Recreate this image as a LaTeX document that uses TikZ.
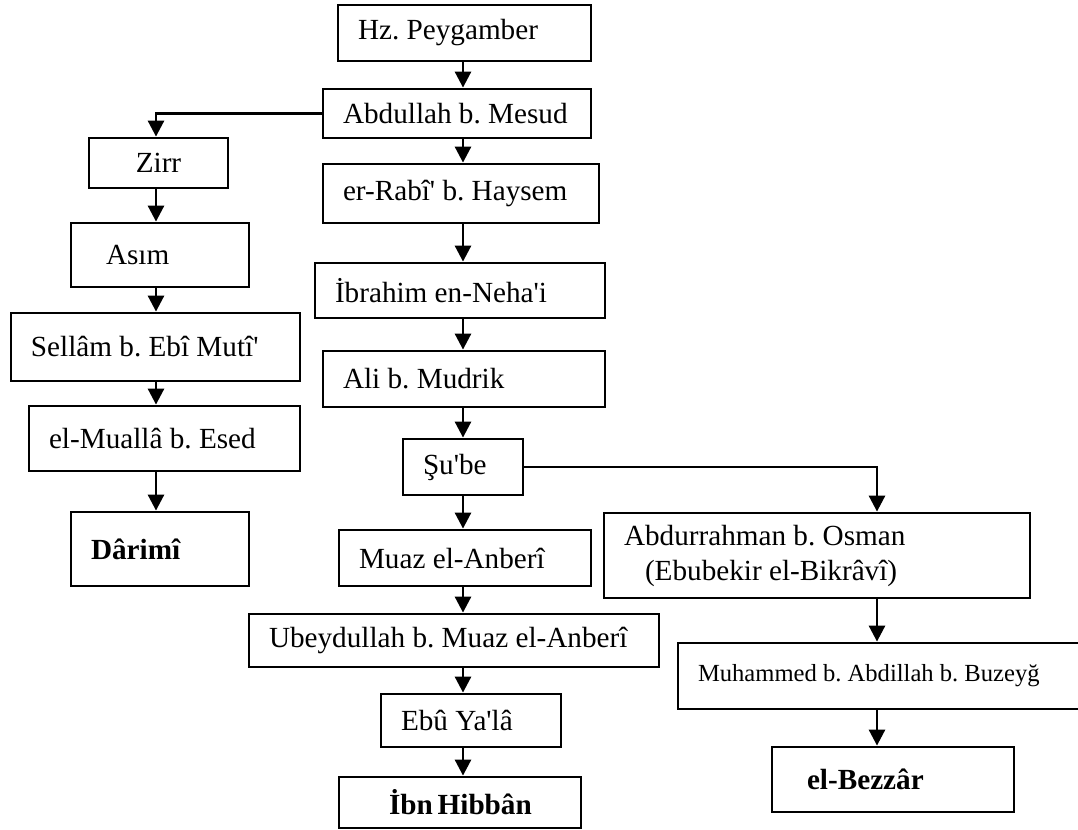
\documentclass[tikz,border=0pt]{standalone}
\usepackage{fontspec}
\setmainfont{Liberation Serif}
\usetikzlibrary{arrows.meta,positioning}
\tikzset{box/.style 2 args={rectangle,draw=black,line width=1.4pt,inner xsep=10pt,inner ysep=0pt,minimum height=#2,font=\fontsize{14.6}{17.5}\selectfont,
    execute at begin node={\frenchspacing\hbox to #1\bgroup},execute at end node={\hfil\egroup}}}
\tikzset{link/.style={line width=1.4pt,-{Triangle[width=8pt,length=8pt]}}}
\newcommand{\ap}{\textquotesingle}

\begin{document}
\begin{tikzpicture}[x=0.5pt,y=-0.5pt]
  \useasboundingbox (0,0) rectangle (1078,830);
  \coordinate (leftcol) at (156,0);
  \coordinate (midcol) at (463,0);
  \coordinate (rightcol) at (877,0);
  % middle chain
  \node[box={106.5pt}{28pt}] (hz) at (464.5,33) {Hz. Peygamber};
  \node[box={114pt}{24.5pt}] (abdullah) at (457,113.5) {Abdullah b. Mesud};
  \node[box={118pt}{29.5pt}] (rabi) at (461,193.5) {er-Rabî\ap{} b. Haysem};
  \node[box={125pt}{27.5pt}] (ibrahim) at (460,290.5) {İbrahim en-Neha\ap i};
  \node[box={121pt}{28pt}] (ali) at (464,379) {Ali b. Mudrik};
  \node[box={40pt}{28pt}] (shube) at (463,467) {Şu\ap be};
  \node[box={106pt}{28pt}] (muaz) at (465,558) {Muaz el-Anberî};
  \node[box={185pt}{26.5pt}] (ubeyd) at (454,640.5) {Ubeydullah b. Muaz el-Anberî};
  \node[box={70pt}{26.5pt}] (ebu) at (471,720.5) {Ebû Ya\ap lâ};
  \node[box={71pt}{25.5pt},inner xsep=25pt] (hibban) at (460,802.5) {\textbf{İbn Hibbân}};
  % left chain
  \node[box={49.5pt}{25pt}] (zirr) at (158.5,163) {\hfil Zirr};
  \node[box={54pt}{32pt},inner xsep=17.5pt] (asim) at (160,255) {Asım};
  \node[box={124.5pt}{34pt}] (sellam) at (155.5,347) {Sellâm b. Ebî Mutî\ap};
  \node[box={115.5pt}{32.5pt}] (mualla) at (164.5,438.5) {el-Muallâ b. Esed};
  \node[box={69pt}{37pt}] (darimi) at (160,549) {\textbf{Dârimî}};
  % right chain
  \node[box={193pt}{42.5pt}] (abdurrahman) at (817,555.5) {\begin{tabular}{@{}l@{}}Abdurrahman b. Osman\\\hspace*{10.5pt}(Ebubekir el-Bikrâvî)\end{tabular}};
  \node[box={182pt}{33pt},font=\fontsize{12.3}{14}\selectfont] (muhammed) at (880,676) {Muhammed b. Abdillah b. Buzeyğ};
  \node[box={86pt}{32.5pt},inner xsep=17.5pt] (bezzar) at (893,779.5) {\textbf{el-Bezzâr}};

  \foreach \a/\b in {hz/abdullah,abdullah/rabi,rabi/ibrahim,ibrahim/ali,ali/shube,shube/muaz,muaz/ubeyd,ubeyd/ebu,ebu/hibban}
    \draw[link] (\a.south -| midcol) -- (\b.north -| midcol);
  \foreach \a/\b in {zirr/asim,asim/sellam,sellam/mualla,mualla/darimi}
    \draw[link] (\a.south -| leftcol) -- (\b.north -| leftcol);
  \foreach \a/\b in {abdurrahman/muhammed,muhammed/bezzar}
    \draw[link] (\a.south -| rightcol) -- (\b.north -| rightcol);
  \draw[link] (abdullah.west) -| (zirr.north -| leftcol);
  \draw[link] (shube.east) -| (abdurrahman.north -| rightcol);
\end{tikzpicture}
\end{document}
